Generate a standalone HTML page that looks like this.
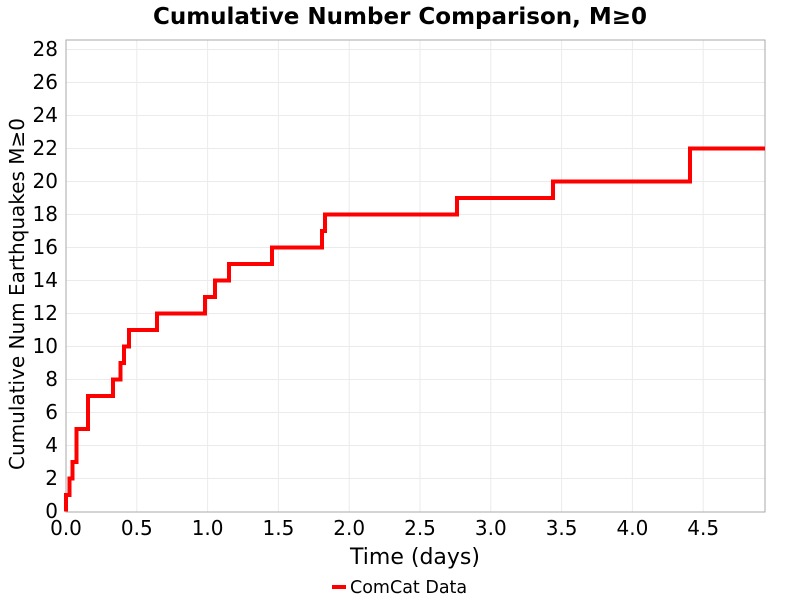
<!DOCTYPE html>
<html><head><style>body{margin:0;background:#fff}svg{display:block}text{font-family:"DejaVu Sans","Liberation Sans",sans-serif}</style></head><body>
<svg width="800" height="600" xmlns="http://www.w3.org/2000/svg">
<rect width="800" height="600" fill="#fff"/>
<text x="400" y="24" text-anchor="middle" font-size="23" font-weight="bold">Cumulative Number Comparison, M≥0</text>
<g stroke="#ebebeb" stroke-width="1">
<line x1="66" x2="765" y1="49.5" y2="49.5"/><line x1="66" x2="765" y1="82.5" y2="82.5"/><line x1="66" x2="765" y1="115.5" y2="115.5"/><line x1="66" x2="765" y1="148.5" y2="148.5"/><line x1="66" x2="765" y1="181.5" y2="181.5"/><line x1="66" x2="765" y1="214.5" y2="214.5"/><line x1="66" x2="765" y1="247.5" y2="247.5"/><line x1="66" x2="765" y1="280.5" y2="280.5"/><line x1="66" x2="765" y1="313.5" y2="313.5"/><line x1="66" x2="765" y1="346.5" y2="346.5"/><line x1="66" x2="765" y1="379.5" y2="379.5"/><line x1="66" x2="765" y1="412.5" y2="412.5"/><line x1="66" x2="765" y1="445.5" y2="445.5"/><line x1="66" x2="765" y1="478.5" y2="478.5"/>
<line y1="40" y2="512" x1="136.8" x2="136.8"/><line y1="40" y2="512" x1="207.6" x2="207.6"/><line y1="40" y2="512" x1="278.4" x2="278.4"/><line y1="40" y2="512" x1="349.2" x2="349.2"/><line y1="40" y2="512" x1="420" x2="420"/><line y1="40" y2="512" x1="490.8" x2="490.8"/><line y1="40" y2="512" x1="561.6" x2="561.6"/><line y1="40" y2="512" x1="632.4" x2="632.4"/><line y1="40" y2="512" x1="703.2" x2="703.2"/>
</g>
<rect x="66" y="40" width="699" height="472" fill="none" stroke="#aaa"/>
<g font-size="20" text-anchor="end">
<text x="58" y="518">0</text><text x="58" y="485">2</text><text x="58" y="452">4</text><text x="58" y="419">6</text><text x="58" y="386">8</text><text x="58" y="353">10</text><text x="58" y="320">12</text><text x="58" y="287">14</text><text x="58" y="254">16</text><text x="58" y="221">18</text><text x="58" y="188">20</text><text x="58" y="155">22</text><text x="58" y="122">24</text><text x="58" y="89">26</text><text x="58" y="56">28</text>
</g>
<g font-size="20" text-anchor="middle">
<text x="66" y="535">0.0</text><text x="136.8" y="535">0.5</text><text x="207.6" y="535">1.0</text><text x="278.4" y="535">1.5</text><text x="349.2" y="535">2.0</text><text x="420" y="535">2.5</text><text x="490.8" y="535">3.0</text><text x="561.6" y="535">3.5</text><text x="632.4" y="535">4.0</text><text x="703.2" y="535">4.5</text>
</g>
<text x="415" y="564" text-anchor="middle" font-size="22">Time (days)</text>
<text transform="translate(24,294) rotate(-90)" text-anchor="middle" font-size="20">Cumulative Num Earthquakes M≥0</text>
<polyline fill="none" stroke="#f00" stroke-width="4" points="66,511.5 66,495 69.5,495 69.5,478.5 72.5,478.5 72.5,462 76.5,462 76.5,429 88,429 88,396 113,396 113,379.5 120.5,379.5 120.5,363 124,363 124,346.5 129,346.5 129,330 157,330 157,313.5 205,313.5 205,297 215,297 215,280.5 229,280.5 229,264 272,264 272,247.5 322,247.5 322,231 325,231 325,214.5 457,214.5 457,198 553,198 553,181.5 690,181.5 690,148.5 765,148.5"/>
<line x1="332" x2="346" y1="587" y2="587" stroke="#f00" stroke-width="4"/>
<text x="350" y="593" font-size="17.5">ComCat Data</text>
</svg>
</body></html>
